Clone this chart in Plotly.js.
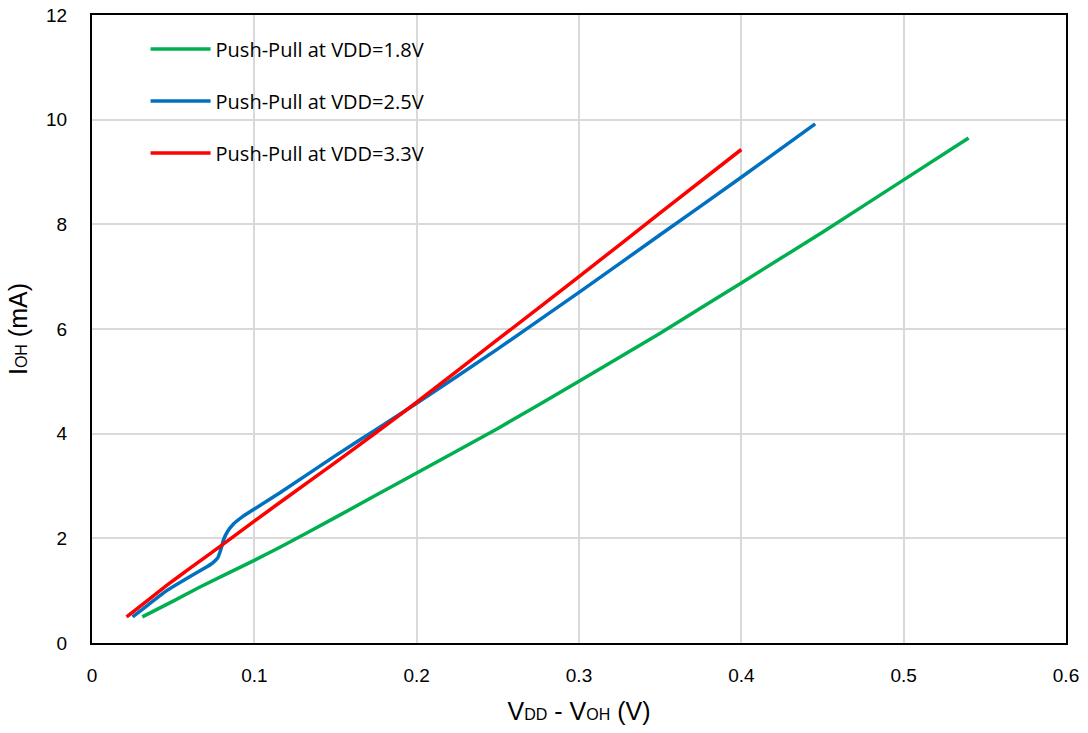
<!DOCTYPE html>
<html>
<head>
<meta charset="utf-8">
<script src="https://cdn.plot.ly/plotly-3.0.1.min.js"></script>
<style>html,body{margin:0;padding:0;background:#fff;}#chart{width:1088px;height:733px;}</style>
</head>
<body>
<div id="chart"></div>
<script>
// Data
const seriesNames = ["Push-Pull at VDD=1.8V", "Push-Pull at VDD=2.5V", "Push-Pull at VDD=3.3V"];
const x18 = [0.031, 0.05, 0.0665, 0.1, 0.1158, 0.15, 0.2, 0.25, 0.3, 0.35, 0.4, 0.45, 0.5, 0.54];
const y18 = [0.5, 0.8, 1.07, 1.58, 1.83, 2.4, 3.25, 4.1, 5.0, 5.92, 6.88, 7.85, 8.85, 9.65];
const x25 = [0.025, 0.035, 0.046, 0.056, 0.0665, 0.073, 0.0775, 0.0795, 0.081, 0.0835, 0.087, 0.093, 0.1, 0.1158, 0.15, 0.1775, 0.2, 0.25, 0.3, 0.35, 0.4, 0.4455];
const y25 = [0.5, 0.74, 1.0, 1.19, 1.38, 1.5, 1.63, 1.8, 1.97, 2.13, 2.27, 2.42, 2.56, 2.87, 3.58, 4.13, 4.58, 5.62, 6.7, 7.8, 8.9, 9.92];
const x33 = [0.0213, 0.03, 0.046, 0.06, 0.08, 0.1, 0.12, 0.15, 0.1775, 0.2, 0.25, 0.3, 0.35, 0.4];
const y33 = [0.5, 0.71, 1.1, 1.42, 1.87, 2.33, 2.78, 3.45, 4.08, 4.6, 5.8, 7.0, 8.22, 9.43];
const colors = ["#00B050", "#0070C0", "#FF0000"];
const xTicks = [0, 0.1, 0.2, 0.3, 0.4, 0.5, 0.6];
const xTickText = ["0", "0.1", "0.2", "0.3", "0.4", "0.5", "0.6"];
const yTicks = [0, 2, 4, 6, 8, 10, 12];

const xs = [x18, x25, x33], ys = [y18, y25, y33];
const traces = xs.map((xv, i) => ({
  x: xv, y: ys[i], type: "scatter", mode: "lines", name: seriesNames[i],
  line: {color: colors[i], width: 3.5, shape: "spline", smoothing: 0.4},
  legendgroup: "g" + i
}));

const layout = {
  width: 1088, height: 733,
  margin: {l: 92, r: 22, t: 15, b: 90},
  paper_bgcolor: "#fff", plot_bgcolor: "#fff",
  font: {family: "Liberation Sans, Arial, sans-serif", color: "#000", size: 19},
  showlegend: true,
  legend: {
    x: 0.055, y: 0.977, xanchor: "left", yanchor: "top",
    bgcolor: "rgba(0,0,0,0)", borderwidth: 0,
    font: {family: "Open Sans, sans-serif", size: 20, color: "#000"},
    tracegroupgap: 23, itemwidth: 60
  },
  xaxis: {
    range: [0, 0.6], tickvals: xTicks, ticktext: xTickText,
    showgrid: true, gridcolor: "#d9d9d9", gridwidth: 2,
    zeroline: false, showline: true, mirror: true, linecolor: "#000", linewidth: 2,
    ticks: "", ticklabelstandoff: 14, tickfont: {size: 19},
    title: {text: "V<span style=\"font-size:16px\">DD</span> - V<span style=\"font-size:16px\">OH</span> (V)", font: {size: 25}, standoff: 18}
  },
  yaxis: {
    range: [0, 12], tickvals: yTicks,
    showgrid: true, gridcolor: "#d9d9d9", gridwidth: 2,
    zeroline: false, showline: true, mirror: true, linecolor: "#000", linewidth: 2,
    ticks: "", ticklabelstandoff: 19, tickfont: {size: 19},
    title: {text: "I<span style=\"font-size:16px\">OH</span> (mA)", font: {size: 25}, standoff: 11}
  },
  shapes: [{
    type: "rect", xref: "paper", yref: "paper", layer: "between",
    x0: 0.008, x1: 0.4, y0: 0.74, y1: 0.984,
    fillcolor: "#fff", line: {width: 0}
  }]
};

Plotly.newPlot("chart", traces, layout, {displayModeBar: false, staticPlot: true});
</script>
</body>
</html>
